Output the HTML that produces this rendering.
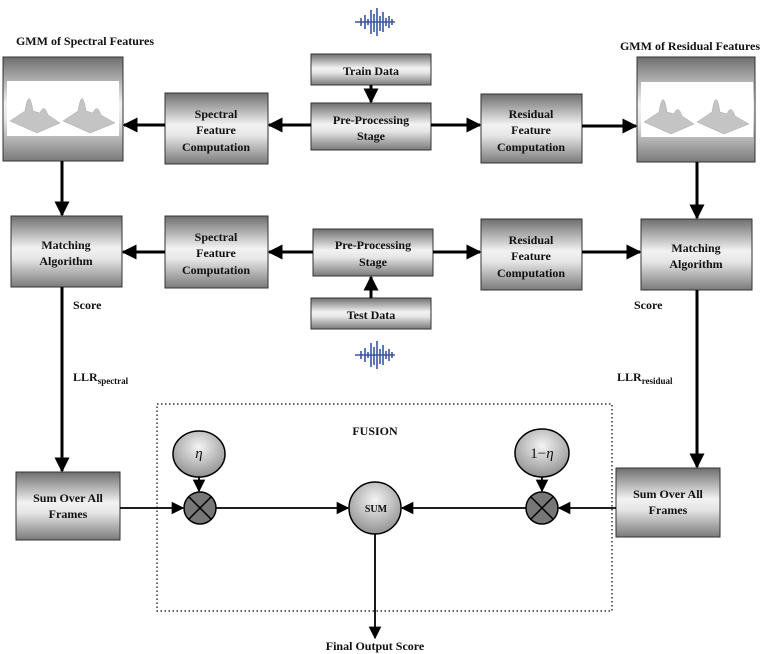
<!DOCTYPE html>
<html><head><style>
body{margin:0;background:#fff}
svg{display:block}
text{font-family:"Liberation Serif",serif;font-weight:bold;fill:#111}
</style></head><body>
<svg width="763" height="654" viewBox="0 0 763 654" xmlns="http://www.w3.org/2000/svg">
<defs>
<linearGradient id="g" x1="0" y1="0" x2="0" y2="1">
<stop offset="0" stop-color="#6e6e6e"/><stop offset="0.45" stop-color="#f2f2f2"/><stop offset="0.6" stop-color="#e6e6e6"/><stop offset="1" stop-color="#7a7a7a"/>
</linearGradient>
<radialGradient id="c" cx="0.5" cy="0.35" r="0.7">
<stop offset="0" stop-color="#f4f4f4"/><stop offset="1" stop-color="#8a8a8a"/>
</radialGradient>
<marker id="a" viewBox="0 0 10 10" refX="9" refY="5" markerWidth="5" markerHeight="5" orient="auto"><path d="M0,0L10,5L0,10z" fill="#000"/></marker>
<marker id="b" viewBox="0 0 10 10" refX="9" refY="5" markerWidth="7" markerHeight="7" orient="auto"><path d="M0,0L10,5L0,10z" fill="#000"/></marker>
<g id="wave"><path d="M-20,0H20M-14,-4V4M-10,-7V7M-7,-3V3M-4,-12V12M-1,-8V10M2,-14V14M5,-6V9M8,-10V10M11,-4V4M14,-6V6M17,-3V3" stroke="#3a55a0" stroke-width="1.6"/></g>
<g id="peaks"><rect x="0" y="0" width="112" height="55" fill="#fff"/>
<path d="M3,40 L18,30 Q22,5 26,30 L33,32 Q37,22 41,34 L53,42 L30,52z" fill="#c4c4c4" stroke="#aaa" stroke-width=".5"/>
<path d="M56,40 L71,30 Q75,5 79,30 L86,32 Q90,22 94,34 L108,42 L83,52z" fill="#c4c4c4" stroke="#aaa" stroke-width=".5"/></g>
</defs>
<g stroke="#333" stroke-width="1" fill="url(#g)">
<rect x="3" y="57" width="120" height="104"/>
<rect x="637" y="57" width="118" height="105"/>
<rect x="165" y="93" width="103" height="71"/>
<rect x="311" y="54" width="120" height="31"/>
<rect x="311" y="103" width="120" height="47"/>
<rect x="481" y="94" width="101" height="69"/>
<rect x="11" y="216" width="111" height="71"/>
<rect x="165" y="216" width="103" height="72"/>
<rect x="313" y="229" width="120" height="47"/>
<rect x="481" y="219" width="101" height="71"/>
<rect x="641" y="219" width="111" height="71"/>
<rect x="311" y="298" width="120" height="31"/>
<rect x="16" y="472" width="104" height="68"/>
<rect x="616" y="468" width="104" height="69"/>
</g>
<use href="#peaks" x="7" y="81"/>
<use href="#peaks" x="641" y="82"/>
<use href="#wave" x="375" y="22"/>
<use href="#wave" x="375" y="355"/>
<g stroke="#000" stroke-width="3" fill="none" marker-end="url(#a)">
<line x1="371" y1="85" x2="371" y2="102"/>
<line x1="311" y1="125" x2="269" y2="125"/>
<line x1="165" y1="125" x2="124" y2="125"/>
<line x1="431" y1="125" x2="480" y2="125"/>
<line x1="582" y1="126" x2="636" y2="126"/>
<line x1="62" y1="161" x2="62" y2="215"/>
<line x1="697" y1="162" x2="697" y2="218"/>
<line x1="313" y1="252" x2="269" y2="252"/>
<line x1="165" y1="252" x2="123" y2="252"/>
<line x1="433" y1="252" x2="480" y2="252"/>
<line x1="582" y1="252" x2="640" y2="252"/>
<line x1="371" y1="298" x2="371" y2="277"/>
<line x1="62" y1="287" x2="62" y2="471"/>
<line x1="697" y1="290" x2="697" y2="467"/>
</g>
<g stroke="#000" stroke-width="1.8" fill="none" marker-end="url(#b)">
<line x1="120" y1="508" x2="183" y2="508"/>
<line x1="216" y1="508" x2="348" y2="508"/>
<line x1="616" y1="508" x2="559" y2="508"/>
<line x1="526" y1="508" x2="402" y2="508"/>
<line x1="199" y1="477" x2="199" y2="491"/>
<line x1="542" y1="476" x2="542" y2="491"/>
<line x1="375" y1="534" x2="375" y2="638"/>
</g>
<rect x="157" y="404" width="455" height="207" fill="none" stroke="#000" stroke-width="1.2" stroke-dasharray="1.5,2.5"/>
<g stroke="#000" stroke-width="1.5">
<ellipse cx="199" cy="454" rx="26" ry="23" fill="url(#c)"/>
<ellipse cx="542" cy="453" rx="27" ry="24" fill="url(#c)"/>
<circle cx="375" cy="508" r="26" fill="url(#c)"/>
<circle cx="200" cy="508" r="16" fill="#777"/>
<circle cx="542" cy="508" r="16" fill="#777"/>
<path d="M189,497L211,519M211,497L189,519M531,497L553,519M553,497L531,519"/>
</g>
<g font-size="12" text-anchor="middle">
<text x="85" y="45">GMM of Spectral Features</text>
<text x="690" y="50">GMM of Residual Features</text>
<text x="371" y="75">Train Data</text>
<text x="371" y="124">Pre-Processing</text><text x="371" y="140">Stage</text>
<text x="216" y="118">Spectral</text><text x="216" y="134">Feature</text><text x="216" y="151">Computation</text>
<text x="531" y="118">Residual</text><text x="531" y="134">Feature</text><text x="531" y="151">Computation</text>
<text x="66" y="249">Matching</text><text x="66" y="265">Algorithm</text>
<text x="216" y="241">Spectral</text><text x="216" y="257">Feature</text><text x="216" y="274">Computation</text>
<text x="373" y="249">Pre-Processing</text><text x="373" y="266">Stage</text>
<text x="531" y="244">Residual</text><text x="531" y="260">Feature</text><text x="531" y="277">Computation</text>
<text x="696" y="252">Matching</text><text x="696" y="268">Algorithm</text>
<text x="371" y="319">Test Data</text>
<text x="68" y="502">Sum Over All</text><text x="68" y="518">Frames</text>
<text x="668" y="498">Sum Over All</text><text x="668" y="514">Frames</text>
<text x="375" y="435">FUSION</text>
<text x="375" y="650">Final Output Score</text>
</g>
<g font-size="12">
<text x="73" y="309">Score</text>
<text x="634" y="309">Score</text>
<text x="73" y="381">LLR<tspan font-size="9" dy="3">spectral</tspan></text>
<text x="617" y="381">LLR<tspan font-size="9" dy="3">residual</tspan></text>
</g>
<text x="376" y="512" font-size="10" text-anchor="middle">SUM</text>
<text x="199" y="458" font-size="15" font-style="italic" style="font-weight:normal" text-anchor="middle">η</text>
<text x="542" y="458" font-size="15" style="font-weight:normal" text-anchor="middle">1−<tspan font-style="italic">η</tspan></text>
</svg>
</body></html>
